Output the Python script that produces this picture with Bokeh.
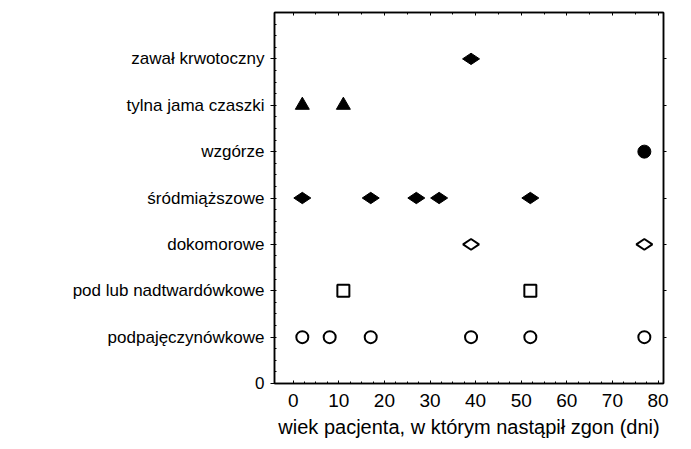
import math
from bokeh.plotting import figure
from bokeh.models import FixedTicker, LinearAxis, Range1d
from bokeh.embed import file_html
from bokeh.resources import INLINE

# category levels (bottom to top)
categories = ["podpajęczynówkowe", "pod lub nadtwardówkowe", "dokomorowe",
              "śródmiąższowe", "wzgórze", "tylna jama czaszki", "zawał krwotoczny"]

# ages at death (days) per category
podpajeczynowkowe_x = [2, 8, 17, 39, 52, 77]
nadtwardowkowe_x = [11, 52]
dokomorowe_x = [39, 77]
srodmiazszowe_x = [2, 17, 27, 32, 52]
wzgorze_x = [77]
tylna_jama_x = [2, 11]
zawal_x = [39]

x_ticks = [0, 10, 20, 30, 40, 50, 60, 70, 80]
x_title = "wiek pacjenta, w którym nastąpił zgon (dni)"

FONT = "Liberation Sans"

p = figure(width=691, height=449, output_backend="svg", toolbar_location=None,
           x_range=Range1d(-4.1, 81.2), y_range=Range1d(0, 8),
           min_border_left=274, min_border_right=28, min_border_top=12, min_border_bottom=66)
p.grid.visible = False
p.outline_line_color = "black"
p.outline_line_width = 1.5
p.background_fill_color = "white"
p.border_fill_color = "white"

def ylev(name, n):
    return [categories.index(name) + 1] * n

# series
p.scatter(podpajeczynowkowe_x, ylev("podpajęczynówkowe", len(podpajeczynowkowe_x)),
          marker="circle", size=12, fill_color="white", line_color="black", line_width=2)
p.scatter(nadtwardowkowe_x, ylev("pod lub nadtwardówkowe", len(nadtwardowkowe_x)),
          marker="square", size=12, fill_color="white", line_color="black", line_width=2)
p.scatter(dokomorowe_x, ylev("dokomorowe", len(dokomorowe_x)),
          marker="diamond", angle=math.pi / 2, size=16, fill_color="white",
          line_color="black", line_width=2)
p.scatter(srodmiazszowe_x, ylev("śródmiąższowe", len(srodmiazszowe_x)),
          marker="diamond", angle=math.pi / 2, size=17, fill_color="black", line_color="black")
p.scatter(wzgorze_x, ylev("wzgórze", len(wzgorze_x)),
          marker="circle", size=13, fill_color="black", line_color="black")
p.scatter(tylna_jama_x, ylev("tylna jama czaszki", len(tylna_jama_x)),
          marker="triangle", size=14, fill_color="black", line_color="black")
p.scatter(zawal_x, ylev("zawał krwotoczny", len(zawal_x)),
          marker="diamond", angle=math.pi / 2, size=17, fill_color="black", line_color="black")

# y axis (left)
yax = p.yaxis[0]
yax.ticker = FixedTicker(ticks=list(range(0, 8)),
                         minor_ticks=[i / 4 for i in range(0, 33)])
overrides = {0: "0"}
for i, c in enumerate(categories):
    overrides[i + 1] = c
yax.major_label_overrides = overrides
yax.major_label_text_font = FONT
yax.major_label_text_font_size = "17px"
yax.major_label_text_color = "black"
yax.major_tick_out = 4
yax.major_tick_in = 0
yax.minor_tick_out = 0
yax.minor_tick_in = 2
yax.axis_line_width = 1.5
yax.major_label_standoff = 6

# x axis (bottom)
xax = p.xaxis[0]
xax.ticker = FixedTicker(ticks=x_ticks, minor_ticks=[i * 2.5 for i in range(0, 33)])
xax.major_label_text_font = FONT
xax.major_label_text_font_size = "19px"
xax.major_label_text_color = "black"
xax.major_tick_in = 3
xax.major_tick_out = 0
xax.minor_tick_in = 2
xax.minor_tick_out = 0
xax.axis_line_width = 1.5
xax.major_label_standoff = 10
xax.axis_label = x_title
xax.axis_label_text_font = FONT
xax.axis_label_text_font_size = "20px"
xax.axis_label_text_font_style = "normal"
xax.axis_label_text_color = "black"
xax.axis_label_standoff = 6

# decorative top/right axes with inward ticks, no labels
top = LinearAxis(ticker=FixedTicker(ticks=x_ticks, minor_ticks=[i * 5 for i in range(0, 17)]),
                 major_label_overrides={t: "" for t in x_ticks},
                 major_tick_in=3, major_tick_out=0,
                 minor_tick_in=2, minor_tick_out=0, axis_line_width=1.5,
                 major_label_standoff=0)
right = LinearAxis(ticker=FixedTicker(ticks=list(range(1, 8)), minor_ticks=[]),
                   major_label_overrides={t: "" for t in range(1, 8)},
                   major_tick_in=0, major_tick_out=3,
                   minor_tick_out=0, minor_tick_in=0, axis_line_width=1.5,
                   major_label_standoff=0)
p.add_layout(top, "above")
p.add_layout(right, "right")

open("out.html", "w").write(file_html(p, INLINE))
